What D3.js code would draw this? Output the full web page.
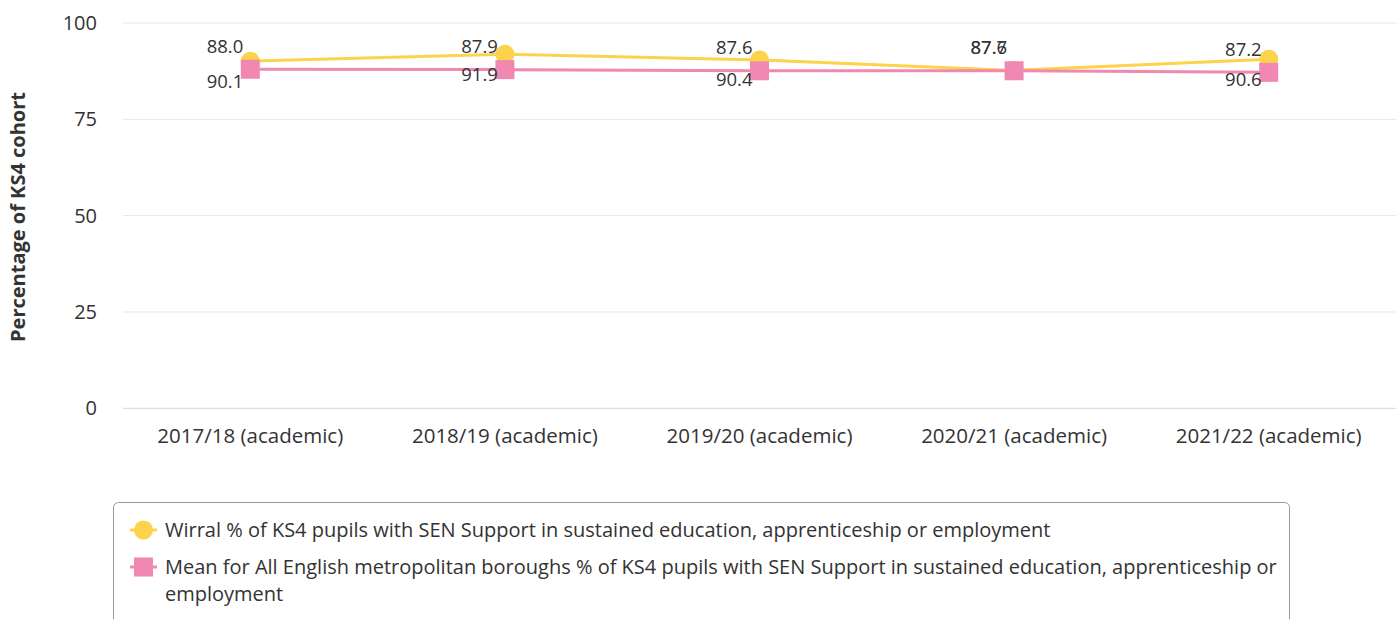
<!DOCTYPE html>
<html>
<head>
<meta charset="utf-8">
<script src="https://cdn.jsdelivr.net/npm/d3@7"></script>
<style>
  body { margin: 0; background: #fff; font-family: "Open Sans", sans-serif; }
  svg text { fill: #333; }
</style>
</head>
<body>
<div id="viz-container"></div>
<script>
let years = ["2017/18 (academic)", "2018/19 (academic)", "2019/20 (academic)", "2020/21 (academic)", "2021/22 (academic)"];
let wirral = [90.1, 91.9, 90.4, 87.7, 90.6];
let meanMet = [88.0, 87.9, 87.6, 87.6, 87.2];
let yTicks = [0, 25, 50, 75, 100];
let legendWirral = ["Wirral % of KS4 pupils with SEN Support in sustained education, apprenticeship or employment"];
let legendMean = ["Mean for All English metropolitan boroughs % of KS4 pupils with SEN Support in sustained education, apprenticeship or", "employment"];

let yellow = "#fcd34a";
let pink = "#f088b1";

let viz = d3.select("#viz-container")
  .append("svg")
    .attr("width", 1396)
    .attr("height", 619);

let x = d3.scaleBand().domain(years).range([123, 1396]);
let y = d3.scaleLinear().domain([0, 100]).range([408.3, 23]);
let cx = d => x(d) + x.bandwidth() / 2;

// gridlines
viz.selectAll("line.grid").data(yTicks).enter()
  .append("line")
    .attr("x1", 123).attr("x2", 1396)
    .attr("y1", d => y(d)).attr("y2", d => y(d))
    .attr("stroke", d => d == 0 ? "#ccd6eb" : "#e6e6e6")
    .attr("stroke-width", 1);

viz.selectAll("text.ytick").data(yTicks).enter()
  .append("text")
    .attr("x", 97).attr("y", d => y(d))
    .attr("dy", "0.35em")
    .attr("text-anchor", "end")
    .attr("font-size", 20)
    .text(d => d);

viz.selectAll("text.xtick").data(years).enter()
  .append("text")
    .attr("x", cx).attr("y", 436)
    .attr("dy", "0.35em")
    .attr("text-anchor", "middle")
    .attr("font-size", 20.5)
    .text(d => d);

viz.append("text")
  .attr("transform", "translate(25, 217) rotate(-90)")
  .attr("text-anchor", "middle")
  .attr("font-size", 20)
  .attr("font-weight", "bold")
  .text("Percentage of KS4 cohort");

let line = d3.line().x((d, i) => cx(years[i])).y(d => y(d));

viz.append("path").attr("d", line(wirral))
  .attr("fill", "none").attr("stroke", yellow).attr("stroke-width", 3);
viz.append("path").attr("d", line(meanMet))
  .attr("fill", "none").attr("stroke", pink).attr("stroke-width", 3);

viz.selectAll("circle.w").data(wirral).enter()
  .append("circle")
    .attr("cx", (d, i) => cx(years[i])).attr("cy", d => y(d))
    .attr("r", 9.5).attr("fill", yellow);

viz.selectAll("rect.m").data(meanMet).enter()
  .append("rect")
    .attr("x", (d, i) => cx(years[i]) - 9.5).attr("y", d => y(d) - 9.5)
    .attr("width", 19).attr("height", 19).attr("fill", pink);

// data labels
viz.selectAll("text.lm").data(meanMet).enter()
  .append("text")
    .attr("x", (d, i) => cx(years[i]) - 7).attr("y", d => y(d) - 23)
    .attr("dy", "0.35em")
    .attr("text-anchor", "end")
    .attr("font-size", 18.5)
    .text(d => d.toFixed(1));

viz.selectAll("text.lw").data(wirral).enter()
  .append("text")
    .attr("x", (d, i) => cx(years[i]) - 7)
    .attr("y", (d, i) => d - meanMet[i] < 1 ? y(d) - 23 : y(d) + 20)
    .attr("dy", "0.35em")
    .attr("text-anchor", "end")
    .attr("font-size", 18.5)
    .text(d => d.toFixed(1));

// legend
let legend = viz.append("g");
legend.append("rect")
  .attr("x", 113.5).attr("y", 502.5)
  .attr("width", 1176).attr("height", 140)
  .attr("rx", 5)
  .attr("fill", "#fff").attr("stroke", "#999");

function legendItem(ypos, color, shape, lines) {
  legend.append("line")
    .attr("x1", 130).attr("x2", 157)
    .attr("y1", ypos).attr("y2", ypos)
    .attr("stroke", color).attr("stroke-width", 3);
  if (shape == "circle") {
    legend.append("circle").attr("cx", 143.5).attr("cy", ypos).attr("r", 9.5).attr("fill", color);
  } else {
    legend.append("rect").attr("x", 134).attr("y", ypos - 9.5).attr("width", 19).attr("height", 19).attr("fill", color);
  }
  legend.selectAll(null).data(lines).enter()
    .append("text")
      .attr("x", 165).attr("y", (d, i) => ypos + i * 27)
      .attr("dy", "0.35em")
      .attr("font-size", 20)
      .text(d => d);
}

legendItem(530, yellow, "circle", legendWirral);
legendItem(567, pink, "square", legendMean);
</script>
</body>
</html>
